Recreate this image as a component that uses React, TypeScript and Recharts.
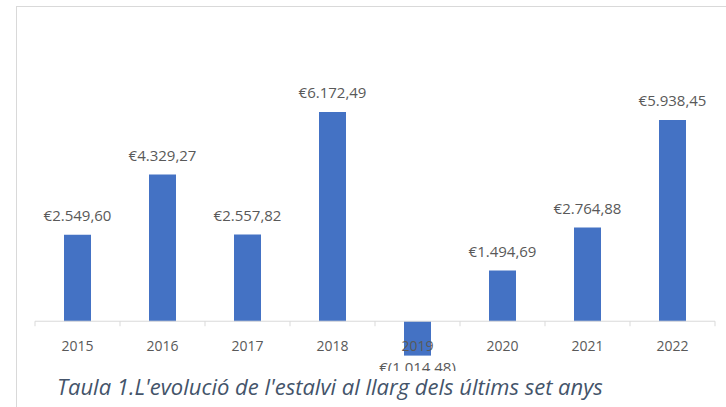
import React from 'react';
import { BarChart, Bar, XAxis, YAxis, ReferenceLine, LabelList } from 'recharts';

const YEARS = ['2015', '2016', '2017', '2018', '2019', '2020', '2021', '2022'];
const SAVINGS = [2549.6, 4329.27, 2557.82, 6172.49, -1014.48, 1494.69, 2764.88, 5938.45];
const CAPTION = "Taula 1.L'evolució de l'estalvi al llarg dels últims set anys";

const data = YEARS.map((year, i) => ({ year, value: SAVINGS[i] }));

const W = 726;
const H = 407;
const TOP = 84;
const BOTTOM = 0;
const XAXIS_H = 18;
const LEFT = 35;
const RIGHT = 11;
const YMIN = -2000;
const YMAX = 7000;
const PLOT_H = H - TOP - BOTTOM - XAXIS_H;
const ZERO_Y = TOP + (PLOT_H * YMAX) / (YMAX - YMIN);
const BAND = (W - LEFT - RIGHT) / YEARS.length;

const GRAY = '#595959';
const AXIS = '#d9d9d9';
const FONT = '"Open Sans", sans-serif';

const fmt = (v: number) => {
  const [int, dec] = Math.abs(v).toFixed(2).split('.');
  const s = int.replace(/\B(?=(\d{3})+(?!\d))/g, '.') + ',' + dec;
  return v < 0 ? `€(${s})` : `€${s}`;
};

const YearTick = (props: any) => {
  const { x, payload, index } = props;
  const half = payload?.offset || BAND / 2;
  return (
    <g>
      <line x1={x - half} x2={x - half} y1={ZERO_Y} y2={ZERO_Y + 5} stroke={AXIS} />
      {index === YEARS.length - 1 && (
        <line x1={x + half} x2={x + half} y1={ZERO_Y} y2={ZERO_Y + 5} stroke={AXIS} />
      )}
      <text x={x} y={ZERO_Y + 30} textAnchor="middle" fill={GRAY} fontSize={14} fontFamily={FONT}>
        {payload.value}
      </text>
    </g>
  );
};

const ValueLabel = (props: any) => {
  const { x, y, width, height, value } = props;
  const top = Math.min(y, y + height);
  const bottom = Math.max(y, y + height);
  const ty = value < 0 ? bottom + 17 : top - 14;
  return (
    <text x={x + width / 2} y={ty} textAnchor="middle" fill={GRAY} fontSize={15} fontFamily={FONT}>
      {fmt(value)}
    </text>
  );
};

export default function App() {
  return (
    <div style={{ position: 'absolute', left: 0, top: 0, width: W, height: H, background: '#fff', overflow: 'hidden' }}>
      <div
        style={{
          position: 'absolute',
          left: 16,
          top: 6,
          width: 730,
          height: 420,
          border: '1.5px solid #d9d9d9',
          boxSizing: 'border-box',
        }}
      />
      <div style={{ position: 'absolute', left: 0, top: 0 }}>
        <BarChart
          width={W}
          height={H}
          data={data}
          margin={{ top: TOP, right: RIGHT, bottom: BOTTOM, left: LEFT }}
        >
          <YAxis hide domain={[YMIN, YMAX]} allowDataOverflow />
          <XAxis
            dataKey="year"
            height={XAXIS_H}
            axisLine={false}
            tickLine={false}
            interval={0}
            tick={<YearTick />}
          />
          <ReferenceLine y={0} stroke={AXIS} strokeWidth={1} />
          <Bar dataKey="value" fill="#4472c4" barSize={27} isAnimationActive={false}>
            <LabelList dataKey="value" content={<ValueLabel />} />
          </Bar>
        </BarChart>
      </div>
      <div
        style={{
          position: 'absolute',
          left: 40,
          top: 371,
          width: 660,
          height: 34,
          paddingLeft: 17,
          boxSizing: 'border-box',
          background: '#fff',
          color: '#44546a',
          fontFamily: FONT,
          fontStyle: 'italic',
          fontSize: 22,
          lineHeight: '30px',
          whiteSpace: 'nowrap',
        }}
      >
        {CAPTION}
      </div>
    </div>
  );
}
